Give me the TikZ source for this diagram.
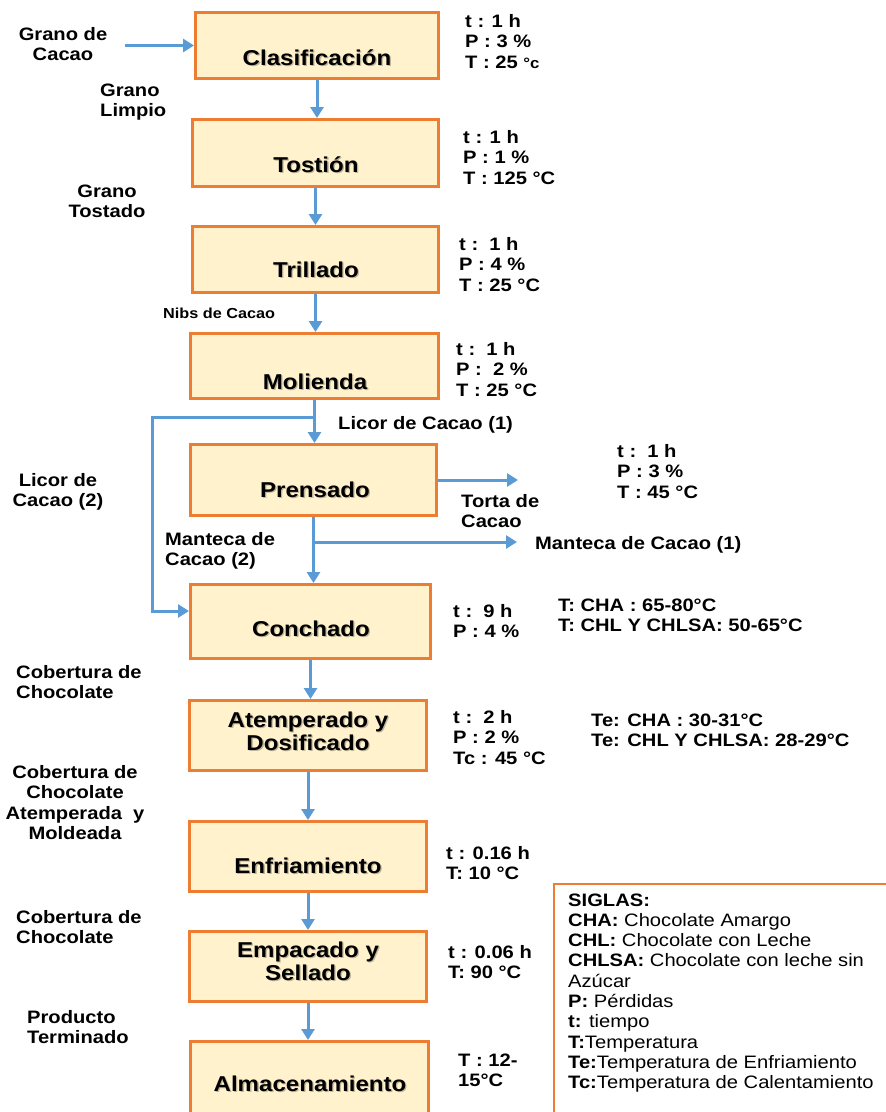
\documentclass[tikz,border=0pt]{standalone}
\usepackage{fontspec}
\setmainfont{Liberation Sans}[FakeStretch=1.12]
\usetikzlibrary{arrows.meta}

\definecolor{boxfill}{HTML}{FFF2CC}
\definecolor{boxline}{HTML}{ED7D31}
\definecolor{flowblue}{HTML}{5B9BD5}

% multi-line nodes are placed by the baseline of their last line
\tikzset{
  procbox/.style={draw=boxline, fill=boxfill, line width=3pt, inner sep=0pt, outer sep=1.5pt},
  steptext/.style={font=\bfseries\fontsize{21.5}{23}\selectfont, inner sep=0pt, anchor=base, align=center},
  stepshadow/.style={steptext, text=black, opacity=0.25},
  flow/.style={draw=flowblue, line width=3pt, -{Triangle[width=13pt,length=11pt]}},
  lbl/.style={font=\bfseries\fontsize{18}{20.5}\selectfont, inner sep=0pt, anchor=base west, align=left},
  lblc/.style={lbl, anchor=base, align=center},
  small/.style={lbl, font=\bfseries\fontsize{14.5}{17}\selectfont},
  legend/.style={font=\fontsize{18}{20.3}\selectfont, inner sep=0pt, anchor=base west, align=left}
}

% process box: name, centre x, centre y, width, height
\newcommand\procnode[5]{\node[procbox, minimum width=#4pt, minimum height=#5pt] (#1) at (#2,#3) {};}
% box title with a soft drop shadow: name, x, baseline y, text
\newcommand\proctitle[4]{%
  \node[stepshadow] (#1-sh) at (#2+1.3,#3+1.3) {#4};
  \node[steptext] (#1) at (#2,#3) {#4};}

\begin{document}
\begin{tikzpicture}[x=1pt, y=-1pt]
\useasboundingbox (0,0) rectangle (886,1112);
\clip (0,0) rectangle (886,1112);
\fill[white] (0,0) rectangle (886,1112);

% process steps
\procnode{clas}{317}{45.5}{243}{66}
\procnode{tost}{315.5}{153}{246}{67}
\procnode{trill}{315.5}{259.5}{246}{66}
\procnode{mol}{314.5}{366}{248}{65}
\procnode{pren}{313.5}{480}{246}{71}
\procnode{conch}{310.5}{621.5}{240}{74}
\procnode{atem}{308}{735.5}{237}{70}
\procnode{enfr}{308}{856.5}{237}{70}
\procnode{empa}{308}{966.5}{237}{70}
\procnode{alma}{309.5}{1080}{238}{77}

\proctitle{clas-t}{317}{65}{Clasificación}
\proctitle{tost-t}{316}{172}{Tostión}
\proctitle{trill-t}{316}{277}{Trillado}
\proctitle{mol-t}{315}{389}{Molienda}
\proctitle{pren-t}{315}{497}{Prensado}
\proctitle{conch-t}{311}{636}{Conchado}
\proctitle{atem-t}{308}{750}{Atemperado y\\Dosificado}
\proctitle{enfr-t}{308}{873}{Enfriamiento}
\proctitle{empa-t}{308}{980}{Empacado y\\Sellado}
\proctitle{alma-t}{310}{1091}{Almacenamiento}

% main flow
\coordinate (grano-in) at (125,45.5);
\draw[flow] (grano-in) -- (clas.west);
\draw[flow] (clas.south) -- (clas.south |- tost.north);
\draw[flow] (tost.south) -- (tost.south |- trill.north);
\draw[flow] (trill.south) -- (trill.south |- mol.north);
\draw[flow] (mol.south) -- (mol.south |- pren.north);
\draw[flow] (pren.south) -- (pren.south |- conch.north);
\draw[flow] (conch.south) -- (conch.south |- atem.north);
\draw[flow] (atem.south) -- (atem.south |- enfr.north);
\draw[flow] (enfr.south) -- (enfr.south |- empa.north);
\draw[flow] (empa.south) -- (empa.south |- alma.north);

% cocoa liquor bypass to conching
\coordinate (licor-split) at (314.5,417);
\coordinate (licor-bend) at (152,417);
\coordinate (licor-foot) at (152,611);
\draw[flow] (licor-split) -- (licor-bend) -- (licor-foot) -- (conch.west |- licor-foot);

% press outputs
\coordinate (torta-end) at (518,480);
\draw[flow] (pren.east) -- (torta-end);
\coordinate (mant-split) at (313.5,542);
\coordinate (mant-end) at (517,542);
\draw[flow] (mant-split) -- (mant-end);

% stream labels
\node[lblc] (l-grano) at (63,60.5) {Grano de\\Cacao};
\node[lbl] (l-limpio) at (100,116.5) {Grano\\Limpio};
\node[lblc] (l-tostado) at (107,217.5) {Grano\\Tostado};
\node[small] (l-nibs) at (163,318) {Nibs de Cacao};
\node[lbl] (l-licor1) at (338,429) {Licor de Cacao (1)};
\node[lblc] (l-licor2) at (58,506.5) {Licor de\\Cacao (2)};
\node[lbl] (l-mant2) at (165,565.5) {Manteca de\\Cacao (2)};
\node[lbl] (l-torta) at (461,527.5) {Torta de\\Cacao};
\node[lbl] (l-mant1) at (535,549) {Manteca de Cacao (1)};
\node[lbl] (l-cob1) at (16,698.5) {Cobertura de\\Chocolate};
\node[lblc] (l-cob2) at (75,839.5) {Cobertura de\\Chocolate\\Atemperada\ \ y\\Moldeada};
\node[lbl] (l-cob3) at (16,943.5) {Cobertura de\\Chocolate};
\node[lbl] (l-prod) at (27,1043.5) {Producto\\Terminado};

% operating conditions
\node[lbl] (p-clas) at (465,68) {t : 1 h\\P : 3 \%\\T : 25 {\fontsize{15}{15}\selectfont °c}};
\node[lbl] (p-tost) at (463,184) {t : 1 h\\P : 1 \%\\T : 125 °C};
\node[lbl] (p-trill) at (459,291) {t :\ \ 1 h\\P : 4 \%\\T : 25 °C};
\node[lbl] (p-mol) at (456,396) {t :\ \ 1 h\\P :\ \ 2 \%\\T : 25 °C};
\node[lbl] (p-pren) at (617,498) {t :\ \ 1 h\\P : 3 \%\\T : 45 °C};
\node[lbl] (p-conch) at (453,637.5) {t :\ \ 9 h\\P : 4 \%};
\node[lbl] (p-conch-t) at (558,631.5) {T: CHA : 65-80°C\\T: CHL Y CHLSA: 50-65°C};
\node[lbl] (p-atem) at (453,764) {t :\ \ 2 h\\P : 2 \%\\Tc : 45 °C};
\node[lbl] (p-atem-te) at (591,746.5) {Te: CHA : 30-31°C\\Te: CHL Y CHLSA: 28-29°C};
\node[lbl] (p-enfr) at (446,879.5) {t : 0.16 h\\T: 10 °C};
\node[lbl] (p-empa) at (448,978.5) {t : 0.06 h\\T: 90 °C};
\node[lbl] (p-alma) at (458,1086.5) {T : 12-\\15°C};

% abbreviations
\node[draw=boxline, line width=1.5pt, inner sep=0pt, anchor=north west,
      minimum width=360pt, minimum height=260pt] (siglas-frame) at (553,883) {};
\node[legend] (siglas) at (568,1088.7) {%
  \textbf{SIGLAS:}\\
  \textbf{CHA:} Chocolate Amargo\\
  \textbf{CHL:} Chocolate con Leche\\
  \textbf{CHLSA:} Chocolate con leche sin\\
  Azúcar\\
  \textbf{P:} Pérdidas\\
  \textbf{t:} tiempo\\
  \textbf{T:}Temperatura\\
  \textbf{Te:}Temperatura de Enfriamiento\\
  \textbf{Tc:}Temperatura de Calentamiento};
\end{tikzpicture}
\end{document}
